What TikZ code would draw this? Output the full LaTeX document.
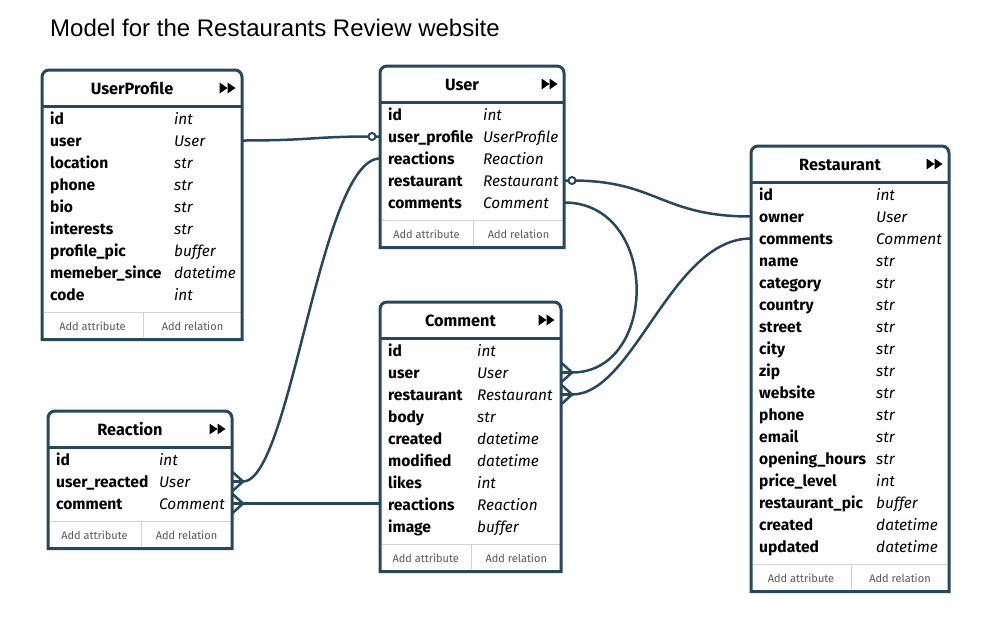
\documentclass[tikz,border=0pt]{standalone}
\usepackage{fontspec}
\setmainfont{Fira Sans}
\newfontfamily\erheadfont{Liberation Sans}
\definecolor{erdark}{RGB}{39,72,92}
\definecolor{ergray}{RGB}{210,210,210}
\definecolor{erfoot}{RGB}{90,90,90}
\tikzset{
  erborder/.style={draw=erdark, line width=3pt},
  ertitle/.style={font=\bfseries\fontsize{16.3pt}{19pt}\selectfont, text=black, inner sep=0pt},
  errowname/.style={font=\bfseries\fontsize{15.6pt}{18pt}\selectfont, text=black, inner sep=0pt, anchor=base west},
  errowtype/.style={font=\itshape\fontsize{15.4pt}{18pt}\selectfont, text=black, inner sep=0pt, anchor=base west},
  erfooter/.style={font=\fontsize{11pt}{13pt}\selectfont, text=erfoot, inner sep=0pt},
  erconn/.style={draw=erdark, line width=2.5pt},
  erring/.style={draw=erdark, line width=2pt, fill=white},
}
% #1 name, #2 title, #3 left, #4 top, #5 width, #6 type offset, #7 rows count, #8 rows
\newcommand\erentity[8]{%
  \def\eN{#1}%
  \pgfmathsetmacro\eL{#3}\pgfmathsetmacro\eT{#4}\pgfmathsetmacro\eR{#3+#5}%
  \pgfmathsetmacro\eF{#4+48.5+22*(#7-1)+18}%
  \pgfmathsetmacro\eB{#4+48.5+22*(#7-1)+45}%
  \pgfmathsetmacro\eM{#3+#5/2+1}%
  \pgfmathsetmacro\eH{#4+36}%
  \fill[white] (\eL,\eB) rectangle (\eR,\eT);
  \node[ertitle] (#1-title) at ({(\eL+\eR)/2-10},{\eT+18.5}) {#2};
  \fill[black] (\eR-22.5,\eT+12.5) -- (\eR-14.5,\eT+18) -- (\eR-22.5,\eT+23.5) -- cycle;
  \fill[black] (\eR-14.5,\eT+12.5) -- (\eR-6.5,\eT+18) -- (\eR-14.5,\eT+23.5) -- cycle;
  \draw[erdark, line width=3pt] (\eL,\eH) -- (\eR,\eH);
  \foreach \rn/\rt [count=\ri] in {#8} {
    \node[errowname] (\eN-\ri-n) at (\eL+8,{\eT+48.5+22*(\ri-1)+6}) {\rn};
    \node[errowtype] (\eN-\ri-t) at (\eL+#6,{\eT+48.5+22*(\ri-1)+6}) {\rt};
    \coordinate (\eN-\ri-w) at (\eL,{\eT+48.5+22*(\ri-1)});
    \coordinate (\eN-\ri-e) at (\eR,{\eT+48.5+22*(\ri-1)});
  }
  \draw[ergray, line width=1pt] (\eL+1.5,\eF) -- (\eR-1.5,\eF);
  \draw[ergray, line width=1pt] (\eM,\eF) -- (\eM,\eB-1.5);
  \node[erfooter] (#1-addattr) at ({(\eL+\eM)/2},{(\eF+\eB)/2}) {Add attribute};
  \node[erfooter] (#1-addrel) at ({(\eM+\eR)/2},{(\eF+\eB)/2}) {Add relation};
  \draw[erborder] (\eL,\eB) -- (\eL,\eT+7) arc[start angle=180,end angle=90,radius=7pt]
     -- (\eR-7,\eT) arc[start angle=90,end angle=0,radius=7pt] -- (\eR,\eB) -- cycle;
}
\newcommand\ercrow[1]{%
  \draw[erconn] (#1) -- ([xshift=11pt]#1);
  \draw[erconn] ([yshift=10pt]#1) -- ([xshift=11pt]#1) -- ([yshift=-10pt]#1);
}
\begin{document}
\begin{tikzpicture}[x=1pt,y=-1pt]
\fill[white] (0,0) rectangle (1003,630);
\useasboundingbox (0,0) rectangle (1003,630);
\node[font=\erheadfont\fontsize{24pt}{28pt}\selectfont, anchor=base west, inner sep=0pt] (heading) at (50,36.5) {Model for the Restaurants Review website};

\erentity{UserProfile}{UserProfile}{42}{70}{200}{132}{9}{id/int, user/User, location/str, phone/str, bio/str, interests/str, profile\_pic/buffer, memeber\_since/datetime, code/int}
\erentity{User}{User}{380}{66}{184}{103}{5}{id/int, user\_profile/UserProfile, reactions/Reaction, restaurant/Restaurant, comments/Comment}
\erentity{Restaurant}{Restaurant}{751}{146}{198}{125}{17}{id/int, owner/User, comments/Comment, name/str, category/str, country/str, street/str, city/str, zip/str, website/str, phone/str, email/str, opening\_hours/str, price\_level/int, restaurant\_pic/buffer, created/datetime, updated/datetime}
\erentity{Comment}{Comment}{380}{302}{181}{97}{9}{id/int, user/User, restaurant/Restaurant, body/str, created/datetime, modified/datetime, likes/int, reactions/Reaction, image/buffer}
\erentity{Reaction}{Reaction}{48}{411}{184}{111}{3}{id/int, user\_reacted/User, comment/Comment}

\coordinate (ringA) at ([xshift=-8pt]User-2-w);
\coordinate (ringB) at ([xshift=8pt]User-4-e);
% UserProfile.user -- User.user_profile
\draw[erconn] (UserProfile-2-e) .. controls +(70,0) and +(-60,0) .. (ringA) -- (User-2-w);
\draw[erring] (ringA) circle[radius=3.5pt];
% User.reactions -- Reaction.user_reacted
\draw[erconn] (User-3-w) .. controls +(-60,0) and +(48,0) .. ([xshift=11pt]Reaction-2-e);
\ercrow{Reaction-2-e}
% Reaction.comment -- Comment.reactions
\draw[erconn] (Reaction-3-e) -- (Reaction-3-e -| Comment-8-w);
\ercrow{Reaction-3-e}
% User.restaurant -- Restaurant.owner
\draw[erconn] (User-4-e) -- (ringB) .. controls +(85,0) and +(-90,0) .. (Restaurant-2-w);
\draw[erring] (ringB) circle[radius=3.5pt];
% User.comments -- Comment.user
\draw[erconn] (User-5-e) .. controls +(96,0) and +(87,0) .. ([xshift=11pt]Comment-2-e);
\ercrow{Comment-2-e}
% Restaurant.comments -- Comment.restaurant
\draw[erconn] (Restaurant-3-w) .. controls +(-80,0) and +(62,0) .. ([xshift=11pt]Comment-3-e);
\ercrow{Comment-3-e}
\end{tikzpicture}
\end{document}
